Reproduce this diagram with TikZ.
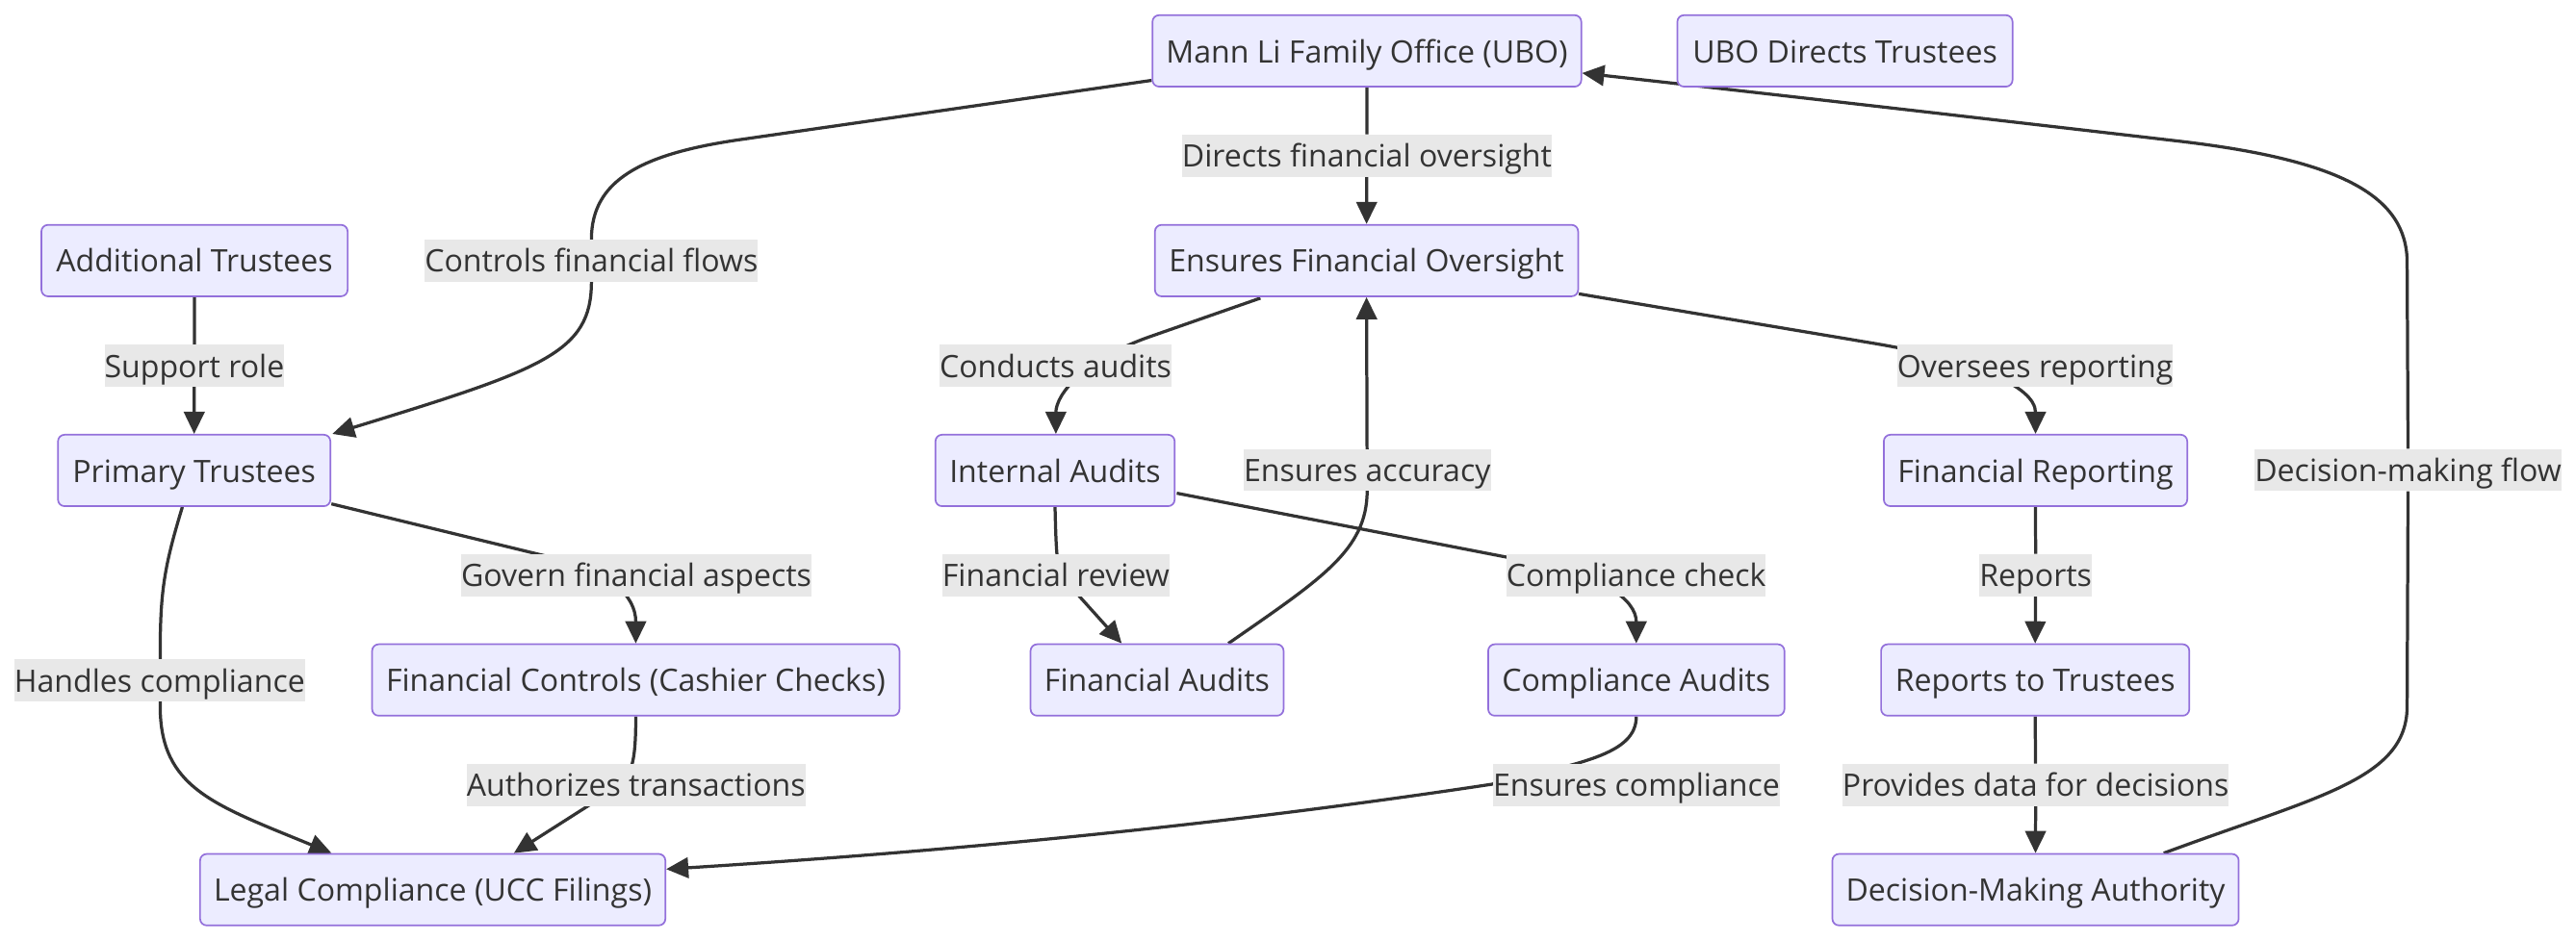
\documentclass[tikz,border=0pt]{standalone}
\usepackage{fontspec}
\setmainfont{Open Sans}
\usetikzlibrary{arrows.meta,calc}
\definecolor{nodefill}{HTML}{ECECFF}
\definecolor{nodeborder}{HTML}{9370DB}
\definecolor{txt}{HTML}{333333}
\definecolor{lblbg}{HTML}{E8E8E8}
\definecolor{edgec}{HTML}{333333}
\pgfdeclarelayer{edgelayer}
\pgfsetlayers{edgelayer,main}
\begin{document}
\begin{tikzpicture}[x=1bp,y=-1bp,
  txtfont/.style={font=\fontsize{18.8bp}{22bp}\selectfont},
  box/.style={draw=nodeborder, fill=nodefill, rounded corners=4bp, line width=1bp,
    minimum height=43.5bp, inner sep=0pt, text=txt, txtfont, text height=14.2bp, text depth=0bp},
  lbl/.style={fill=lblbg, minimum height=25.5bp, inner xsep=0pt, inner ysep=0pt, text=txt, txtfont,
    text height=14.2bp, text depth=0bp},
  conn/.style={draw=edgec, line width=1.9bp, -{Triangle[length=13.5bp,width=12.5bp]}}]
\useasboundingbox (0,0) rectangle (1568,573);
% nodes
\node[box, minimum width=261bp] (ubo) at (832,31) {Mann Li Family Office (UBO)};
\node[box, minimum width=204bp] (udt) at (1123,31) {UBO Directs Trustees};
\node[box, minimum width=186.4bp] (addt) at (118.4,158.7) {Additional Trustees};
\node[box, minimum width=257.6bp] (efo) at (831.8,158.7) {Ensures Financial Oversight};
\node[box, minimum width=165.8bp] (pt) at (118.2,286.5) {Primary Trustees};
\node[box, minimum width=145.6bp] (ia) at (642.2,286.5) {Internal Audits};
\node[box, minimum width=184.7bp] (fr) at (1239,286.5) {Financial Reporting};
\node[box, minimum width=321bp] (fc) at (387,414.1) {Financial Controls (Cashier Checks)};
\node[box, minimum width=154bp] (fa) at (704.3,414.1) {Financial Audits};
\node[box, minimum width=180.3bp] (ca) at (996,414.1) {Compliance Audits};
\node[box, minimum width=187.6bp] (rt) at (1238.8,414.1) {Reports to Trustees};
\node[box, minimum width=283.2bp] (lc) at (263.4,541.8) {Legal Compliance (UCC Filings)};
\node[box, minimum width=247.3bp] (dma) at (1239,541.8) {Decision-Making Authority};
% labels
\node[lbl] (l1) at (832,94.8) {Directs financial oversight};
\node[lbl] (l2) at (360,158.7) {Controls financial flows};
\node[lbl] (l3) at (118.3,222.7) {Support role};
\node[lbl] (l4) at (642.5,222.7) {Conducts audits};
\node[lbl] (l5) at (1238.8,222.7) {Oversees reporting};
\node[lbl] (l6) at (832.2,286.2) {Ensures accuracy};
\node[lbl] (l7) at (1465.8,286.2) {Decision-making flow};
\node[lbl] (l8) at (387.3,350.3) {Govern financial aspects};
\node[lbl] (l9) at (642.7,350.3) {Financial review};
\node[lbl] (l10) at (995.9,350.3) {Compliance check};
\node[lbl] (l11) at (1239.1,350.3) {Reports};
\node[lbl] (l12) at (97.2,414.2) {Handles compliance};
\node[lbl] (l13) at (387.2,478) {Authorizes transactions};
\node[lbl] (l14) at (996.1,478) {Ensures compliance};
\node[lbl] (l15) at (1239.1,478) {Provides data for decisions};
% edges
\begin{pgfonlayer}{edgelayer}
\draw[conn] (ubo.south) -- (l1) -- (efo.north);
\draw[conn] ($(ubo.south west)+(0,-4.3)$) -- (450,85.1) .. controls (390,93.8) and (360,110) .. (l2.north)
  -- (l2.south) .. controls (360,215) and (330,225) .. ($(pt.north east)+(0.7,0)$);
\draw[conn] (addt.south) -- (l3) -- (pt.north);
\draw[conn] ($(efo.south)+(-64.6,0.6)$) -- (700,205) .. controls (660,219) and (642.7,240) .. ($(ia.north)+(0.5,0)$);
\draw[conn] ($(efo.south east)+(-0.1,-2)$) -- (1140,209) .. controls (1200,219) and (1239,235) .. (fr.north);
\draw[conn] ($(fa.north)+(43.4,0)$) .. controls (805,352) and (831.8,335) .. (l6.south) -- (efo.south);
\draw[conn] (ia.south) .. controls (642.7,330) and (643,340) .. (645.2,350) -- ($(fa.north)+(-21.5,0)$);
\draw[conn] ($(ia.south east)+(0.8,-8.4)$) -- (930,341.8) .. controls (975,350) and (996,365) .. (ca.north);
\draw[conn] (fr.south) -- (l11) -- (rt.north);
\draw[conn] ($(pt.south east)+(0.1,-1.9)$) -- (340,340.5) .. controls (370,348) and (387,362) .. (fc.north);
\draw[conn] ($(pt.south)+(-7.2,0)$) .. controls (100,345) and (97.5,360) .. (97.5,398) -- (97.5,430)
  .. controls (97.5,480) and (130,490) .. ($(lc.north)+(-61.6,0)$);
\draw[conn] (fc.south) .. controls (387,462) and (385,470) .. (378,478) -- ($(lc.north)+(49.4,0)$);
\draw[conn] (ca.south) .. controls (996,460) and (960,465) .. (908,477.6)
  .. controls (760,500) and (600,517) .. ($(lc.east)+(0,-12.5)$);
\draw[conn] (rt.south) -- (l15) -- (dma.north);
\draw[conn] ($(dma.north east)+(-46.1,0)$) .. controls (1410,485) and (1465.2,475) .. (1465.2,430)
  -- (l7) -- (1465.2,160) .. controls (1465.2,120) and (1426.6,97.7) .. (1326.6,86)
  .. controls (1200,71.3) and (1080,57.5) .. ($(ubo.east)+(0,13.5)$);
\end{pgfonlayer}
\end{tikzpicture}
\end{document}
